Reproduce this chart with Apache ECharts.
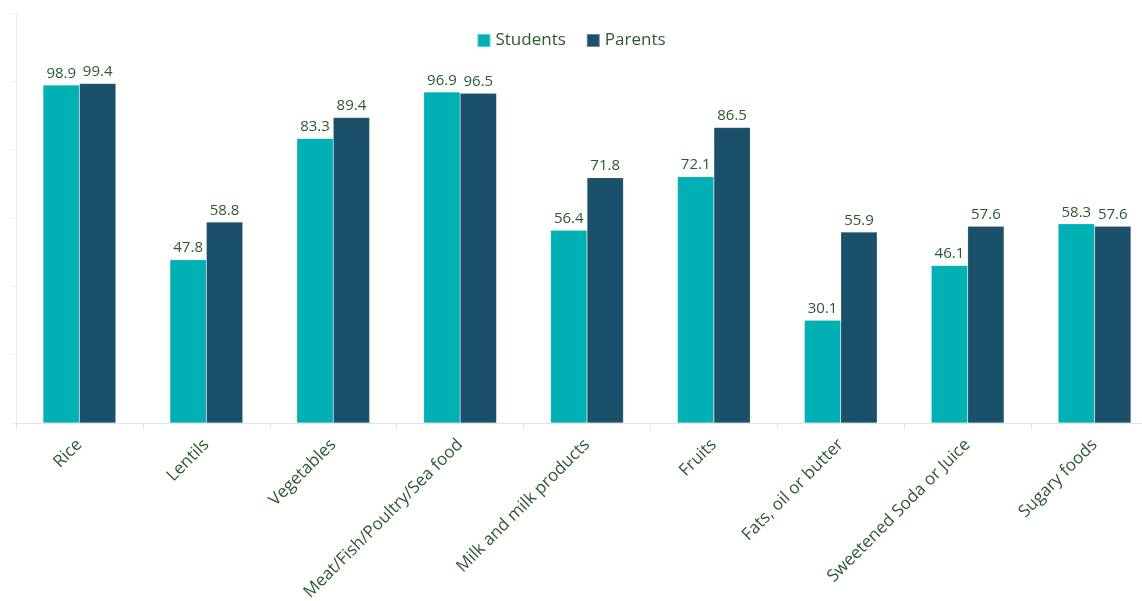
<!DOCTYPE html>
<html>
<head>
<meta charset="utf-8">
<script src="https://cdn.jsdelivr.net/npm/echarts@6/dist/echarts.min.js"></script>
<style>
  html, body { margin: 0; padding: 0; background: #ffffff; }
  #chart { width: 1142px; height: 601px; }
</style>
</head>
<body>
<div id="chart"></div>
<script>
// Food groups and the share (%) of students and parents reporting each
const categories = ['Rice', 'Lentils', 'Vegetables', 'Meat/Fish/Poultry/Sea food', 'Milk and milk products', 'Fruits', 'Fats, oil or butter', 'Sweetened Soda or Juice', 'Sugary foods'];
const students = [98.9, 47.8, 83.3, 96.9, 56.4, 72.1, 30.1, 46.1, 58.3];
const parents = [99.4, 58.8, 89.4, 96.5, 71.8, 86.5, 55.9, 57.6, 57.6];

const textColor = '#2b5a2d';
const font = '"Open Sans", "Noto Sans", sans-serif';

const chart = echarts.init(document.getElementById('chart'), null, { renderer: 'canvas' });

const barLabel = {
  show: true,
  position: 'top',
  distance: 4,
  color: textColor,
  fontFamily: font,
  fontSize: 15,
  formatter: p => p.value.toFixed(1)
};

chart.setOption({
  animation: false,
  backgroundColor: '#ffffff',
  legend: {
    top: 27,
    left: 'center',
    itemWidth: 13,
    itemHeight: 13,
    itemGap: 20,
    icon: 'rect',
    textStyle: { color: textColor, fontFamily: font, fontSize: 17 },
    data: ['Students', 'Parents']
  },
  // the plot runs a little past the right edge of the canvas
  grid: { left: 16, width: 1142, top: 13, height: 410, containLabel: false, outerBoundsMode: 'none' },
  xAxis: {
    type: 'category',
    data: categories,
    axisLine: { show: true, lineStyle: { color: '#e3e3e3', width: 1 } },
    axisTick: { show: true, length: 6, lineStyle: { color: '#e3e3e3' } },
    axisLabel: {
      rotate: 45,
      interval: 0,
      margin: 19,
      color: textColor,
      fontFamily: font,
      fontSize: 17
    }
  },
  yAxis: {
    type: 'value',
    min: 0,
    max: 120,
    interval: 20,
    axisLine: { show: true, lineStyle: { color: '#ececec', width: 1 } },
    axisTick: { show: true, length: 5, lineStyle: { color: '#ececec' } },
    axisLabel: { show: false },
    splitLine: { show: false }
  },
  series: [
    {
      name: 'Students',
      type: 'bar',
      data: students,
      barWidth: '28.7%',
      barGap: '0%',
      itemStyle: { color: '#00b0b5', borderColor: 'rgba(255,255,255,0.35)', borderWidth: 0.5 },
      label: barLabel
    },
    {
      name: 'Parents',
      type: 'bar',
      data: parents,
      barWidth: '28.7%',
      barGap: '0%',
      itemStyle: { color: '#1a5069', borderColor: 'rgba(255,255,255,0.35)', borderWidth: 0.5 },
      label: barLabel
    }
  ]
});
</script>
</body>
</html>
